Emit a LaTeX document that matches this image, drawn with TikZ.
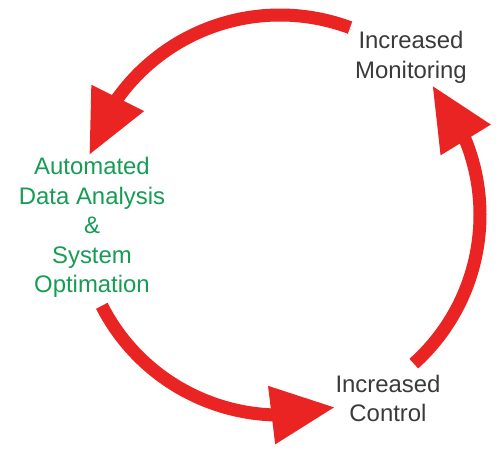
\documentclass[tikz,border=0pt]{standalone}
\usepackage{fontspec}
\setmainfont{Liberation Sans}
\usetikzlibrary{arrows.meta, bending}
\definecolor{arrowred}{RGB}{234,36,34}
\definecolor{textgreen}{RGB}{22,156,84}
\definecolor{textgray}{RGB}{58,58,58}

\begin{document}
\begin{tikzpicture}
	\tikzstyle{stage} = [align=center, inner sep=0pt, text=textgray, 
	font=\fontsize{13.6}{16.8}\selectfont]
	\tikzstyle{goal} = [stage, text=textgreen]
	\tikzstyle{cycle} = [line width=0.26cm, draw=arrowred, 
	-{Triangle[length=1.28cm, width=1.1cm]}, 
	preaction={draw=black!18, transform canvas={shift={(0.05cm,-0.05cm)}}}]
	\useasboundingbox (-5.6,-4.74) rectangle (4.4,4.3);
	\coordinate (hub) at (0,0);
	\node (monitoring) [stage] at (2.62,3.15) {Increased\\Monitoring};
	\node (control) [stage] at (2.16,-3.67) {Increased\\Control};
	\node (analysis) [goal] at (-3.76,-0.25) {Automated\\Data Analysis\\\&\\System\\Optimation};
	\draw [cycle] ([shift={(69.5:4cm)}]hub) arc[start angle=69.5, end angle=162.6, radius=4cm];
	\draw [cycle] ([shift={(207:4cm)}]hub) arc[start angle=207, end angle=286, radius=4cm];
	\draw [cycle] ([shift={(312:4cm)}]hub) arc[start angle=312, end angle=400.4, radius=4cm];
\end{tikzpicture}
\end{document}
